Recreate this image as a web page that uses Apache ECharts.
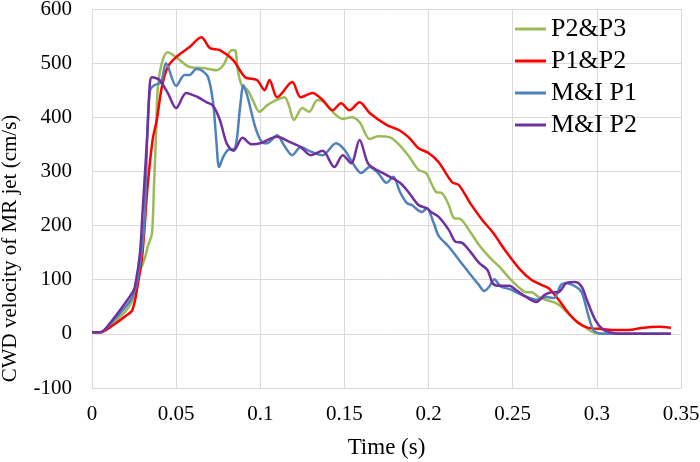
<!DOCTYPE html>
<html>
<head>
<meta charset="utf-8">
<title>CWD velocity of MR jet</title>
<script src="https://cdn.jsdelivr.net/npm/echarts@6/dist/echarts.min.js"></script>
<style>
  html, body { margin: 0; padding: 0; background: #fff; }
  #echart { width: 700px; height: 462px; }
</style>
</head>
<body>
<div id="echart"></div>
<script>
// series names (legend order)
const seriesNames = ['P2&P3', 'P1&P2', 'M&I P1', 'M&I P2']

// [time (s), velocity (cm/s)]
const p2p3 = [
  [0, 3], [0.005, 3], [0.012, 18], [0.020, 42], [0.024, 62], [0.0267, 100], [0.0314, 140],
  [0.033, 160], [0.0356, 185], [0.0368, 271], [0.038, 363], [0.039, 450], [0.0415, 500], [0.045, 520],
  [0.050, 511], [0.058, 493], [0.066, 491], [0.074, 487], [0.078, 496], [0.083, 524], [0.085, 524],
  [0.0866, 487], [0.089, 459], [0.0925, 450], [0.0955, 432], [0.0996, 410], [0.104, 422], [0.1097, 432],
  [0.1144, 437], [0.117, 422], [0.120, 395], [0.125, 417], [0.129, 410], [0.134, 432], [0.138, 428],
  [0.143, 410], [0.149, 397], [0.154, 400], [0.159, 391], [0.165, 360], [0.170, 365], [0.177, 363],
  [0.1826, 349], [0.1885, 327], [0.194, 303], [0.1985, 297], [0.2015, 279], [0.2045, 262], [0.208, 260],
  [0.212, 238], [0.215, 214], [0.219, 212], [0.224, 192], [0.230, 164], [0.236, 142], [0.242, 124],
  [0.248, 103], [0.254, 85], [0.258, 77], [0.261, 77], [0.2656, 68], [0.2697, 63], [0.2756, 57],
  [0.279, 50], [0.285, 31], [0.291, 17], [0.297, 4], [0.301, 0], [0.31, 0], [0.344, 0]
]
const p1p2 = [
  [0, 3], [0.005, 3], [0.012, 15], [0.020, 33], [0.024, 44], [0.027, 87], [0.030, 149],
  [0.033, 271], [0.036, 358], [0.0385, 395], [0.0415, 456], [0.045, 493], [0.050, 511], [0.058, 530],
  [0.065, 548], [0.070, 528], [0.076, 524], [0.084, 505], [0.091, 474], [0.098, 469], [0.1025, 450],
  [0.1055, 469], [0.110, 437], [0.119, 465], [0.124, 437], [0.131, 445], [0.137, 432], [0.143, 413],
  [0.148, 426], [0.153, 413], [0.159, 428], [0.165, 408], [0.175, 386], [0.1826, 376], [0.1885, 362],
  [0.194, 343], [0.200, 334], [0.206, 317], [0.214, 280], [0.218, 275], [0.225, 240], [0.232, 210],
  [0.238, 188], [0.246, 152], [0.254, 120], [0.261, 100], [0.2675, 90], [0.2715, 84], [0.2775, 62],
  [0.283, 39], [0.289, 20], [0.295, 11], [0.303, 9], [0.311, 7], [0.319, 7], [0.3266, 11], [0.337, 13],
  [0.344, 11]
]
const mip1 = [
  [0, 3], [0.005, 3], [0.012, 22], [0.020, 50], [0.024, 68], [0.027, 100], [0.031, 200],
  [0.033, 380], [0.0345, 450], [0.037, 459], [0.041, 465], [0.044, 500], [0.050, 458], [0.055, 478],
  [0.058, 478], [0.062, 489], [0.065, 487], [0.069, 474], [0.072, 426], [0.074, 352], [0.0755, 308],
  [0.078, 327], [0.081, 340], [0.085, 343], [0.088, 419], [0.090, 459], [0.0925, 437], [0.097, 382],
  [0.101, 354], [0.104, 352], [0.110, 367], [0.114, 349], [0.119, 330], [0.124, 345], [0.129, 338],
  [0.137, 330], [0.145, 352], [0.150, 340], [0.155, 315], [0.160, 297], [0.165, 308], [0.170, 297],
  [0.175, 279], [0.179, 290], [0.183, 262], [0.187, 242], [0.190, 238], [0.196, 225], [0.199, 232],
  [0.203, 205], [0.206, 181], [0.212, 161], [0.218, 137], [0.224, 113], [0.230, 90], [0.233, 79],
  [0.236, 87], [0.239, 101], [0.243, 87], [0.248, 83], [0.2525, 76], [0.2585, 68], [0.264, 63],
  [0.270, 68], [0.2745, 66], [0.2786, 90], [0.2816, 94], [0.2875, 87], [0.291, 77], [0.2952, 31],
  [0.298, 7], [0.303, 0], [0.344, 0]
]
const mip2 = [
  [0, 3], [0.005, 3], [0.012, 25], [0.020, 58], [0.024, 76], [0.0255, 87], [0.0285, 149],
  [0.030, 223], [0.033, 376], [0.0344, 463], [0.0356, 474], [0.040, 469], [0.045, 445], [0.050, 417],
  [0.056, 445], [0.063, 437], [0.068, 428], [0.072, 421], [0.076, 395], [0.080, 352], [0.084, 338],
  [0.0895, 362], [0.095, 350], [0.100, 352], [0.110, 364], [0.117, 355], [0.124, 345], [0.130, 330],
  [0.137, 338], [0.144, 308], [0.149, 330], [0.154, 315], [0.159, 358], [0.164, 315], [0.169, 303],
  [0.173, 297], [0.177, 290], [0.183, 279], [0.188, 262], [0.194, 238], [0.199, 232], [0.2015, 225],
  [0.206, 216], [0.212, 192], [0.216, 170], [0.220, 168], [0.225, 151], [0.230, 131], [0.235, 118],
  [0.238, 94], [0.241, 89], [0.248, 89], [0.252, 81], [0.258, 68], [0.264, 59], [0.269, 72],
  [0.273, 77], [0.277, 77], [0.282, 94], [0.287, 96], [0.291, 87], [0.294, 63], [0.299, 26],
  [0.304, 7], [0.309, 2], [0.313, 0], [0.344, 0]
]
const seriesData = [p2p3, p1p2, mip1, mip2]
const colors = ['#9bbb59', '#ff0000', '#4f81bd', '#7030a0']

const font = 'Liberation Serif, Times New Roman, serif'

const echart = echarts.init(document.getElementById('echart'))

const option = {
  animation: false,
  color: colors,
  textStyle: { fontFamily: font },
  // keep the plot box fixed, names sit outside it
  grid: { left: 92, right: 19, top: 9, bottom: 74, outerBoundsMode: 'none', containLabel: false },
  legend: {
    orient: 'vertical',
    left: 510,
    top: 11,
    icon: 'rect',
    itemWidth: 31,
    itemHeight: 3,
    itemGap: 6,
    data: seriesNames,
    textStyle: { fontFamily: font, fontSize: 26, color: '#000', lineHeight: 26 }
  },
  xAxis: {
    type: 'value',
    min: 0,
    max: 0.35,
    interval: 0.05,
    name: 'Time (s)',
    nameLocation: 'middle',
    nameGap: 48,
    nameTextStyle: { fontFamily: font, fontSize: 23, color: '#000' },
    axisLine: { show: true, onZero: false, lineStyle: { color: '#d9d9d9', width: 1 } },
    axisTick: { show: false },
    axisLabel: {
      margin: 16,
      fontFamily: font,
      fontSize: 21,
      color: '#000',
      formatter: v => String(+v.toFixed(2))
    },
    splitLine: { show: true, lineStyle: { color: '#d9d9d9', width: 1 } }
  },
  yAxis: {
    type: 'value',
    min: -100,
    max: 600,
    interval: 100,
    name: 'CWD velocity of MR jet (cm/s)',
    nameLocation: 'middle',
    nameGap: 71,
    nameTextStyle: { fontFamily: font, fontSize: 21, color: '#000', padding: [0, 100, 0, 0] },
    axisLine: { show: false },
    axisTick: { show: false },
    axisLabel: { margin: 20, fontFamily: font, fontSize: 21, color: '#000' },
    splitLine: { show: true, lineStyle: { color: '#d9d9d9', width: 1 } }
  },
  series: seriesNames.map((name, i) => ({
    name: name,
    type: 'line',
    data: seriesData[i],
    symbol: 'none',
    showSymbol: false,
    smooth: 0.3,
    lineStyle: { width: 2.5, color: colors[i] }
  }))
}

echart.setOption(option)
</script>
</body>
</html>
